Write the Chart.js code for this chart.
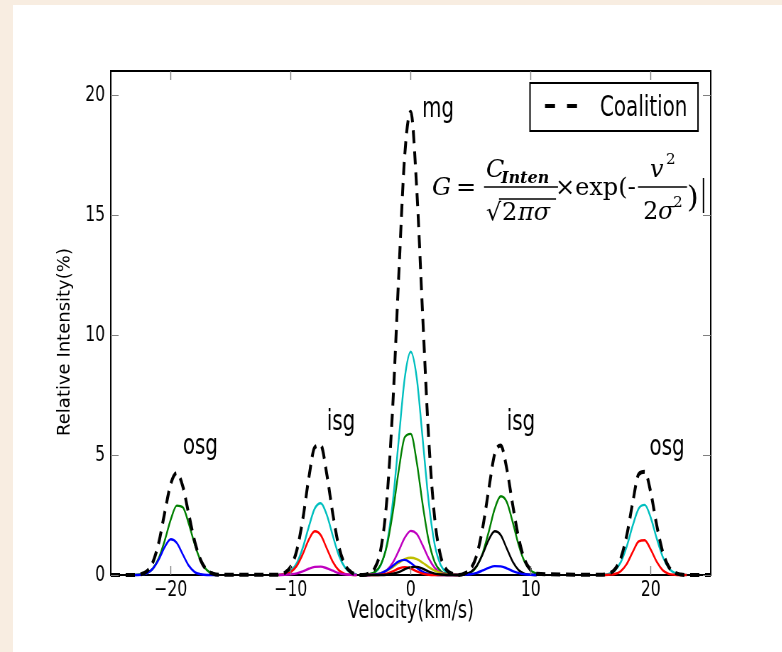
<!DOCTYPE html>
<html>
<head>
<meta charset="utf-8">
<script src="https://cdn.jsdelivr.net/npm/chart.js@4.4.1/dist/chart.umd.min.js"></script>
<style>
    html, body { margin: 0; padding: 0; background: #fff; }
    #wrap { position: relative; width: 782px; height: 652px; overflow: hidden; background: #f8ede1; }
    #panel { position: absolute; left: 13px; top: 5px; right: 0; bottom: 0; background: #fff; }
    /* la figura original está comprimida en horizontal: se dibuja ancha y se estrecha */
    #stage { position: absolute; left: 0; top: 0; width: 1101px; height: 652px; transform: scaleX(0.71); transform-origin: 0 0; }
</style>
</head>
<body>
<div id="wrap">
    <div id="panel"></div>
    <div id="stage"><canvas id="chart" width="1101" height="652"></canvas></div>
</div>
<script>
// Valores: velocidad (km/s) e intensidad relativa (%)
const xTicks = [-20, -10, 0, 10, 20];
const yTicks = [0, 5, 10, 15, 20];

// osg izquierdo
const velOsgL = [-23.5, -23, -22.5, -22, -21.5, -21, -20.5, -20, -19.5, -19, -18.5, -18, -17.5, -17, -16.5, -16];
const osgLBlue = [0, 0, 0.01, 0.07, 0.26, 0.65, 1.17, 1.49, 1.34, 0.86, 0.39, 0.12, 0.03, 0, 0, 0];
const osgLGreen = [0, 0, 0.02, 0.08, 0.26, 0.70, 1.44, 2.31, 2.89, 2.82, 2.14, 1.27, 0.58, 0.21, 0.06, 0.01];
const osgLCoal = [0, 0, 0.03, 0.15, 0.52, 1.35, 2.61, 3.80, 4.25, 3.70, 2.53, 1.39, 0.61, 0.21, 0.06, 0.01];

// isg izquierdo
const velIsgL = [-11, -10.5, -10, -9.5, -9, -8.5, -8, -7.5, -7, -6.5, -6, -5.5, -5, -4.5];
const isgLCyan = [0.01, 0.04, 0.17, 0.49, 1.13, 2.00, 2.77, 2.99, 2.51, 1.64, 0.83, 0.33, 0.10, 0.02];
const isgLRed = [0, 0.03, 0.12, 0.38, 0.87, 1.47, 1.82, 1.66, 1.11, 0.55, 0.20, 0.05, 0.01, 0];
const isgLMagenta = [0, 0.01, 0.03, 0.07, 0.15, 0.26, 0.34, 0.35, 0.28, 0.18, 0.08, 0.03, 0.01, 0];
const isgLCoal = [0.01, 0.09, 0.35, 1.02, 2.32, 4.03, 5.32, 5.40, 4.21, 2.56, 1.20, 0.44, 0.13, 0.02];

// mg central
const velMg = [-4, -3.5, -3, -2.5, -2, -1.5, -1, -0.5, 0, 0.5, 1, 1.5, 2, 2.5, 3, 3.5, 4];
const mgCyan = [0, 0.02, 0.10, 0.41, 1.26, 3.02, 5.64, 8.21, 9.30, 8.21, 5.64, 3.02, 1.26, 0.41, 0.10, 0.02, 0];
const mgGreen = [0, 0.03, 0.12, 0.43, 1.19, 2.58, 4.36, 5.74, 5.88, 4.70, 2.92, 1.42, 0.53, 0.16, 0.04, 0.01, 0];
const mgMagenta = [0, 0, 0.02, 0.06, 0.20, 0.51, 1.01, 1.55, 1.84, 1.71, 1.23, 0.69, 0.30, 0.10, 0.03, 0.01, 0];
const mgYellow = [0, 0.01, 0.03, 0.08, 0.18, 0.33, 0.51, 0.66, 0.72, 0.66, 0.51, 0.33, 0.18, 0.08, 0.03, 0.01, 0];
const mgBlue = [0, 0, 0.02, 0.07, 0.19, 0.38, 0.57, 0.63, 0.50, 0.30, 0.13, 0.04, 0.01, 0, 0, 0, 0];
const mgRed = [0, 0, 0, 0.01, 0.06, 0.15, 0.27, 0.33, 0.27, 0.15, 0.06, 0.01, 0, 0, 0, 0, 0];
const mgBlack = [0, 0, 0, 0, 0.01, 0.05, 0.12, 0.24, 0.33, 0.34, 0.26, 0.14, 0.06, 0.02, 0, 0, 0];
const mgCoal = [0, 0.06, 0.29, 1.06, 3.09, 7.02, 12.48, 17.50, 19.30, 16.07, 10.75, 5.65, 2.34, 0.77, 0.20, 0.05, 0];

// isg derecho
const velIsgR = [4.5, 5, 5.5, 6, 6.5, 7, 7.5, 8, 8.5, 9, 9.5, 10, 10.5];
const isgRGreen = [0.03, 0.11, 0.36, 0.92, 1.80, 2.76, 3.28, 3.05, 2.20, 1.24, 0.54, 0.19, 0.05];
const isgRBlack = [0.03, 0.12, 0.38, 0.87, 1.47, 1.82, 1.66, 1.11, 0.55, 0.20, 0.05, 0.01, 0];
const isgRBlue = [0.01, 0.03, 0.09, 0.19, 0.30, 0.37, 0.36, 0.28, 0.16, 0.08, 0.03, 0.01, 0];
const isgRCoal = [0.07, 0.26, 0.83, 1.98, 3.57, 5.05, 5.40, 4.44, 2.91, 1.52, 0.62, 0.21, 0.05];

// osg derecho
const velOsgR = [16, 16.5, 17, 17.5, 18, 18.5, 19, 19.5, 20, 20.5, 21, 21.5, 22, 22.5, 23];
const osgRCyan = [0.01, 0.05, 0.19, 0.53, 1.19, 2.06, 2.77, 2.92, 2.39, 1.52, 0.76, 0.29, 0.09, 0.02, 0];
const osgRRed = [0, 0.01, 0.04, 0.16, 0.46, 0.96, 1.40, 1.45, 1.06, 0.55, 0.20, 0.05, 0.01, 0, 0];
const osgRCoal = [0.01, 0.06, 0.23, 0.69, 1.65, 3.02, 4.20, 4.30, 3.45, 2.07, 0.96, 0.34, 0.10, 0.02, 0];

const legendLabel = 'Coalition';

(function () {
    const SX = 0.71;
    const SANS = '"DejaVu Sans", sans-serif';
    const SERIF = '"DejaVu Serif", serif';
    const C = { b: '#0000ff', g: '#008000', r: '#ff0000', c: '#00bfbf', m: '#bf00bf', y: '#bfbf00', k: '#000000' };

    function pts(vel, val) {
        return vel.map((v, i) => ({ x: v, y: val[i] }));
    }

    function comp(vel, val, color) {
        return {
            data: pts(vel, val), borderColor: color, borderWidth: 2.4, pointRadius: 0,
            fill: false, cubicInterpolationMode: 'monotone', clip: false, order: 2
        };
    }

    const coalition = [{ x: -25, y: 0 }].concat(
        pts(velOsgL, osgLCoal), pts(velIsgL, isgLCoal), pts(velMg, mgCoal),
        pts(velIsgR, isgRCoal), pts(velOsgR, osgRCoal), [{ x: 25, y: 0 }]);

    const datasets = [
        {
            label: legendLabel, data: coalition, borderColor: '#000', borderWidth: 4,
            borderDash: [13, 8], pointRadius: 0, fill: false,
            cubicInterpolationMode: 'monotone', clip: false, order: 0
        },
        comp(velOsgL, osgLBlue, C.b), comp(velOsgL, osgLGreen, C.g),
        comp(velIsgL, isgLMagenta, C.m), comp(velIsgL, isgLRed, C.r), comp(velIsgL, isgLCyan, C.c),
        comp(velMg, mgBlack, C.k), comp(velMg, mgRed, C.r), comp(velMg, mgBlue, C.b),
        comp(velMg, mgYellow, C.y), comp(velMg, mgMagenta, C.m), comp(velMg, mgGreen, C.g), comp(velMg, mgCyan, C.c),
        comp(velIsgR, isgRBlue, C.b), comp(velIsgR, isgRBlack, C.k), comp(velIsgR, isgRGreen, C.g),
        comp(velOsgR, osgRRed, C.r), comp(velOsgR, osgRCyan, C.c)
    ];

    // etiquetas de los grupos, ancladas en coordenadas de datos
    const groupLabels = [
        { t: 'osg', v: -19.0, i: 5.05 }, { t: 'isg', v: -7.0, i: 6.05 }, { t: 'mg', v: 0.95, i: 19.1 },
        { t: 'isg', v: 8.0, i: 6.05 }, { t: 'osg', v: 19.9, i: 5.0 }
    ];

    function drawFormula(ctx) {
        // la fórmula no está comprimida: se dibuja en píxeles de la imagen final
        ctx.save();
        ctx.scale(1 / SX, 1);
        ctx.fillStyle = '#000';
        ctx.strokeStyle = '#000';
        ctx.textBaseline = 'alphabetic';
        ctx.textAlign = 'left';
        const it = 'italic 24px ' + SERIF;
        const rg = '24px ' + SERIF;
        ctx.font = it; ctx.fillText('G', 432, 195);
        ctx.font = rg; ctx.fillText('=', 456, 195);
        ctx.font = it; ctx.fillText('C', 486, 177);
        ctx.font = 'italic bold 16px ' + SERIF; ctx.fillText('Inten', 501, 183);
        ctx.lineWidth = 1.4;
        ctx.beginPath(); ctx.moveTo(484, 187); ctx.lineTo(558, 187); ctx.stroke();
        ctx.font = rg; ctx.fillText('\u221A', 486, 220);
        ctx.beginPath(); ctx.moveTo(499, 199); ctx.lineTo(556, 199); ctx.stroke();
        ctx.font = rg; ctx.fillText('2', 502, 220);
        ctx.font = it; ctx.fillText('\u03C0\u03C3', 518, 220);
        ctx.font = rg; ctx.fillText('\u00D7exp(-', 555, 195);
        ctx.font = it; ctx.fillText('v', 650, 177);
        ctx.font = '15px ' + SERIF; ctx.fillText('2', 666, 164);
        ctx.beginPath(); ctx.moveTo(638, 187); ctx.lineTo(687, 187); ctx.stroke();
        ctx.font = rg; ctx.fillText('2', 643, 219);
        ctx.font = it; ctx.fillText('\u03C3', 658, 219);
        ctx.font = '15px ' + SERIF; ctx.fillText('2', 673, 207);
        ctx.font = '30px ' + SERIF; ctx.fillText(')', 687, 207);
        ctx.lineWidth = 1.5;
        ctx.beginPath(); ctx.moveTo(703.5, 178); ctx.lineTo(703.5, 213); ctx.stroke();
        ctx.restore();
    }

    const decor = {
        id: 'decor',
        beforeDatasetsDraw(chart) {
            const { ctx, chartArea: a } = chart;
            ctx.save();
            ctx.strokeStyle = '#000';
            ctx.lineWidth = 2;
            ctx.strokeRect(a.left, a.top, a.right - a.left, a.bottom - a.top);
            ctx.restore();
        },
        afterDatasetsDraw(chart) {
            const { ctx, chartArea: a, scales: { x, y } } = chart;
            ctx.save();
            // marcas hacia dentro, estilo matplotlib
            ctx.strokeStyle = '#808080';
            ctx.lineWidth = 1.4;
            xTicks.forEach(v => {
                const px = x.getPixelForValue(v);
                ctx.beginPath();
                ctx.moveTo(px, a.bottom); ctx.lineTo(px, a.bottom - 9);
                ctx.moveTo(px, a.top); ctx.lineTo(px, a.top + 9);
                ctx.stroke();
            });
            ctx.lineWidth = 1;
            yTicks.forEach(v => {
                const py = Math.round(y.getPixelForValue(v)) + 0.5;
                ctx.beginPath();
                ctx.moveTo(a.left, py); ctx.lineTo(a.left + 11, py);
                ctx.moveTo(a.right, py); ctx.lineTo(a.right - 11, py);
                ctx.stroke();
            });

            // títulos de ejes
            ctx.fillStyle = '#000';
            ctx.textAlign = 'center';
            ctx.textBaseline = 'middle';
            ctx.font = '25px ' + SANS;
            ctx.fillText('Velocity(km/s)', (a.left + a.right) / 2, 611);
            ctx.save();
            ctx.scale(1 / SX, 1);
            ctx.translate(65, 342);
            ctx.rotate(-Math.PI / 2);
            ctx.font = '18px ' + SANS;
            ctx.fillText('Relative Intensity(%)', 0, 0);
            ctx.restore();

            // etiquetas de los grupos
            ctx.textAlign = 'left';
            ctx.textBaseline = 'alphabetic';
            ctx.font = '28px ' + SANS;
            groupLabels.forEach(l => ctx.fillText(l.t, x.getPixelForValue(l.v), y.getPixelForValue(l.i)));

            // leyenda
            ctx.strokeStyle = '#000';
            ctx.lineWidth = 2;
            ctx.strokeRect(530 / SX, 83, 168 / SX, 48);
            ctx.lineWidth = 4;
            ctx.beginPath();
            ctx.moveTo(545 / SX, 106); ctx.lineTo(555 / SX, 106);
            ctx.moveTo(567 / SX, 106); ctx.lineTo(577 / SX, 106);
            ctx.stroke();
            ctx.font = '28px ' + SANS;
            ctx.fillText(legendLabel, 600 / SX, 116);
            ctx.restore();

            drawFormula(ctx);
        }
    };

    const tickFont = { family: SANS, size: 22 };

    new Chart(document.getElementById('chart'), {
        type: 'line',
        data: { datasets },
        options: {
            responsive: false,
            animation: false,
            layout: { padding: { top: 71, right: 100, bottom: 0, left: 0 } },
            plugins: { legend: { display: false }, tooltip: { enabled: false } },
            scales: {
                x: {
                    type: 'linear', min: -25, max: 25,
                    grid: { display: false, drawTicks: false }, border: { display: false },
                    afterFit: s => { s.height = 77; },
                    afterBuildTicks: s => { s.ticks = xTicks.map(v => ({ value: v })); },
                    ticks: {
                        padding: 2, color: '#000', font: tickFont, maxRotation: 0, autoSkip: false,
                        callback: v => v < 0 ? '\u2212' + Math.abs(v) : String(v)
                    }
                },
                y: {
                    type: 'linear', min: 0, max: 21,
                    grid: { display: false, drawTicks: false }, border: { display: false },
                    afterFit: s => { s.width = 156; },
                    afterBuildTicks: s => { s.ticks = yTicks.map(v => ({ value: v })); },
                    ticks: { padding: 8, color: '#000', font: tickFont, autoSkip: false }
                }
            }
        },
        plugins: [decor]
    });
})();
</script>
</body>
</html>
